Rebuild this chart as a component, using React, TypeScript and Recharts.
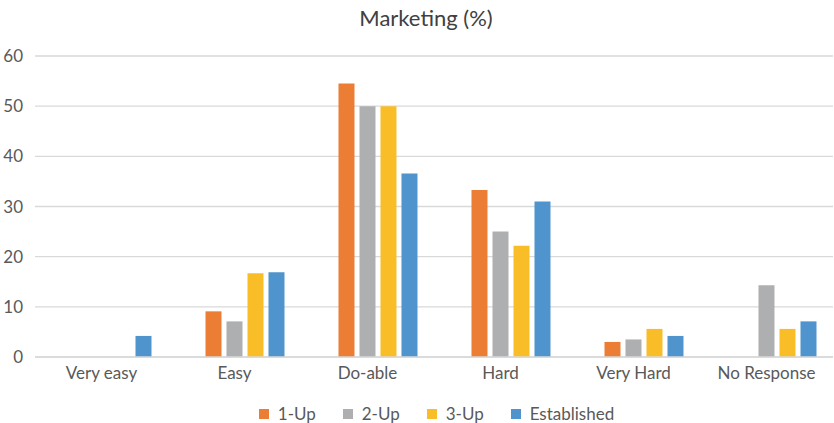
import React from "react";
import { BarChart, Bar, XAxis, YAxis, CartesianGrid, Legend } from "recharts";

const categories = ["Very easy", "Easy", "Do-able", "Hard", "Very Hard", "No Response"];
const oneUp = [null, 9.1, 54.5, 33.3, 3.0, null];
const twoUp = [null, 7.1, 50, 25, 3.5, 14.3];
const threeUp = [null, 16.7, 50, 22.2, 5.6, 5.6];
const established = [4.2, 16.9, 36.6, 31.0, 4.2, 7.1];
const yTicks = [0, 10, 20, 30, 40, 50, 60];

const seriesNames = ["1-Up", "2-Up", "3-Up", "Established"];
const seriesColors = ["#EC7D35", "#AEAFB1", "#F9BD28", "#4F94CD"];

const data = categories.map((c, i) => ({
  name: c,
  hidden: null,
  s1: oneUp[i],
  s2: twoUp[i],
  s3: threeUp[i],
  s4: established[i],
}));

const FONT = "Lato, 'Noto Sans', sans-serif";
const TEXT = "#595959";

const LegendContent = () => (
  <div
    style={{
      display: "flex",
      justifyContent: "center",
      alignItems: "center",
      fontFamily: FONT,
      fontSize: 17,
      color: TEXT,
      paddingTop: 19,
      paddingLeft: 40,
      lineHeight: "15px",
      height: 15,
    }}
  >
    {seriesNames.map((n, i) => (
      <div key={n} style={{ display: "flex", alignItems: "center", marginRight: i < 3 ? 27 : 0 }}>
        <span style={{ width: 10, height: 10, background: seriesColors[i], display: "inline-block", marginRight: 9 }} />
        <span>{n}</span>
      </div>
    ))}
  </div>
);

export default function App() {
  return (
    <div style={{ position: "absolute", left: 0, top: 0, width: 834, height: 423, background: "#fff" }}>
      <div
        style={{
          position: "absolute",
          top: 4,
          left: 0,
          width: 852,
          textAlign: "center",
          fontFamily: FONT,
          fontSize: 22,
          color: "#404040",
        }}
      >
        Marketing (%)
      </div>
      <BarChart
        width={834}
        height={423}
        data={data}
        margin={{ top: 56, right: 1, left: 0, bottom: 0 }}
        barCategoryGap="12.4%"
        barGap={5}
      >
        <CartesianGrid vertical={false} stroke="#d9d9d9" strokeWidth={1.3} />
        <XAxis
          dataKey="name"
          tickLine={false}
          axisLine={{ stroke: "#d9d9d9", strokeWidth: 1.3 }}
          tick={{ fill: TEXT, fontSize: 17, fontFamily: FONT }}
          height={30}
          interval={0}
          tickMargin={4}
        />
        <YAxis
          width={35}
          domain={[0, 60]}
          ticks={yTicks}
          tickLine={false}
          axisLine={false}
          tick={{ fill: TEXT, fontSize: 17, fontFamily: FONT }}
          tickMargin={6}
        />
        <Legend verticalAlign="bottom" height={36} content={<LegendContent />} />
        <Bar dataKey="hidden" fill="transparent" legendType="none" isAnimationActive={false} />
        <Bar dataKey="s1" name="1-Up" fill={seriesColors[0]} isAnimationActive={false} />
        <Bar dataKey="s2" name="2-Up" fill={seriesColors[1]} isAnimationActive={false} />
        <Bar dataKey="s3" name="3-Up" fill={seriesColors[2]} isAnimationActive={false} />
        <Bar dataKey="s4" name="Established" fill={seriesColors[3]} isAnimationActive={false} />
      </BarChart>
    </div>
  );
}
